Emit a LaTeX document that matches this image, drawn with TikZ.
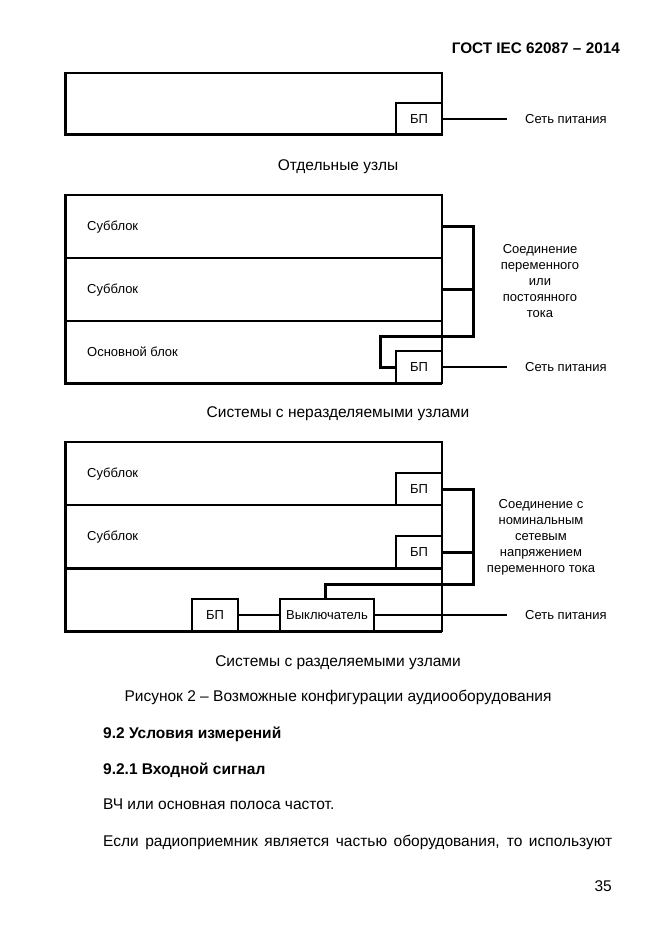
\documentclass[tikz,border=0pt]{standalone}
\usepackage{fontspec}
\setmainfont{Liberation Sans}
\usetikzlibrary{positioning}

\begin{document}
\begin{tikzpicture}[x=1pt, y=-1pt,
  frame/.style={line width=1.8pt},
  edge/.style={line width=3pt},
  wire/.style={line width=2.4pt},
  unit/.style={draw, line width=1.8pt, minimum width=46pt, minimum height=32pt, inner sep=0pt, outer sep=0pt, font=\fontsize{13}{16}\selectfont},
  lbl/.style={font=\fontsize{13}{16}\selectfont, inner sep=0pt, anchor=base west},
  figcap/.style={font=\fontsize{15.5}{18}\selectfont, inner sep=0pt, anchor=base},
  body/.style={font=\fontsize{15.5}{18}\selectfont, inner sep=0pt, anchor=base west}]
  \fill[white] (0,0) rectangle (661,936);
  \useasboundingbox (0,0) rectangle (661,936);
  \node[font=\bfseries\fontsize{15.3}{18}\selectfont, inner sep=0pt, anchor=base east] (head) at (620,53.5) {ГОСТ IEC 62087 – 2014};
  % three frames, left and bottom sides heavier
  \foreach \t/\b in {73/135, 195/383, 442/631} {
    \draw[frame] (65,\t) rectangle (442,\b);
    \draw[edge] (65,\t) -- (65,\b) -- (442,\b);
  }
  % separate units
  \node[unit, anchor=south east] (bpa) at (442,135) {БП};
  \coordinate (mna) at (507,119);
  \draw[wire] (bpa.east) -- (mna);
  \node[lbl] (neta) at (525,123.7) {Сеть питания};
  \node[figcap] (capa) at (338,170.6) {Отдельные узлы};
  % non-separable units
  \draw[frame] (65,258) -- (442,258);
  \draw[frame] (65,321) -- (442,321);
  \node[lbl] (suba) at (87,230.7) {Субблок};
  \node[lbl] (subb) at (87,293.7) {Субблок};
  \node[lbl] (mainb) at (87,356.7) {Основной блок};
  \node[unit, anchor=south east] (bpb) at (442,383) {БП};
  \coordinate (ta) at (442,226);
  \coordinate (tb) at (442,289);
  \draw[edge] (ta) -- (473,226) -- (473,336) -- (380,336) |- (bpb.west);
  \draw[edge] (tb) -- (473,289);
  \coordinate (mnb) at (507,367);
  \draw[wire] (bpb.east) -- (mnb);
  \node[lbl] (netb) at (525,371.7) {Сеть питания};
  \node[font=\fontsize{13}{16.2}\selectfont, align=center, inner sep=0pt] (linkb) at (540,281) {Соединение\\переменного\\или\\постоянного\\тока};
  \node[figcap] (capb) at (338,417.6) {Системы с неразделяемыми узлами};
  % separable units
  \draw[frame] (65,505) -- (442,505);
  \draw[edge] (65,568) -- (442,568);
  \node[lbl] (subc) at (87,477.7) {Субблок};
  \node[lbl] (subd) at (87,540.7) {Субблок};
  \node[unit, anchor=south east] (bpc) at (442,505) {БП};
  \node[unit, anchor=south east] (bpd) at (442,568) {БП};
  \node[unit, anchor=south west] (bpe) at (192,631) {БП};
  \node[unit, anchor=south west, minimum width=94pt] (sw) at (280,631) {Выключатель};
  \draw[edge] (bpc.east) -- (473,489) -- (473,584) -- (325,584) -- (sw.north -| 325,0);
  \draw[edge] (bpd.east) -- (473,552);
  \draw[wire] (bpe.east) -- (sw.west);
  \coordinate (mnc) at (507,615);
  \draw[wire] (sw.east) -- (mnc);
  \node[lbl] (netc) at (525,619.7) {Сеть питания};
  \node[font=\fontsize{13}{16}\selectfont, align=center, inner sep=0pt] (linkc) at (541,537) {Соединение с\\номинальным\\сетевым\\напряжением\\переменного тока};
  \node[figcap] (capc) at (338,666.6) {Системы с разделяемыми узлами};
  % caption and text below
  \node[figcap] (fig) at (338,701.6) {Рисунок 2 – Возможные конфигурации аудиооборудования};
  \node[body, font=\bfseries\fontsize{15.5}{18}\selectfont] (seca) at (103,738.6) {9.2 Условия измерений};
  \node[body, font=\bfseries\fontsize{15.5}{18}\selectfont] (secb) at (103,774.6) {9.2.1 Входной сигнал};
  \node[body] (para) at (103,809.6) {ВЧ или основная полоса частот.};
  \node[body] (parb) at (103,846.6) {\makebox[509pt][s]{Если радиоприемник является частью оборудования, то используют}};
  \node[body, anchor=base east] (page) at (612,891.6) {35};
\end{tikzpicture}
\end{document}
